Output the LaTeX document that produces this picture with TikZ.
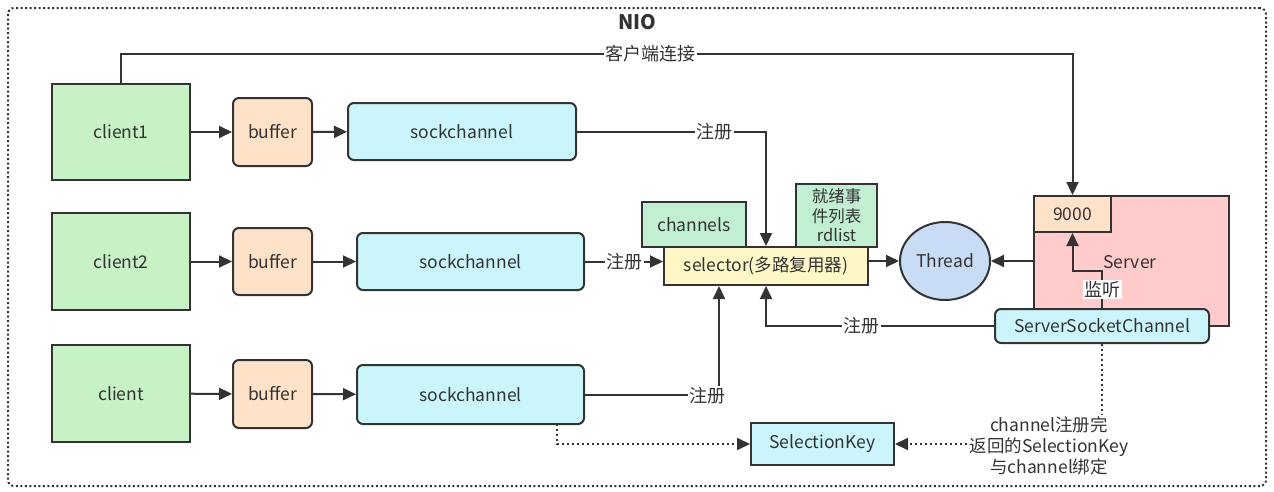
\documentclass[tikz,border=0pt]{standalone}
\usepackage{fontspec}
\setmainfont{Noto Sans CJK SC}
\usetikzlibrary{arrows.meta,shapes.geometric}
\definecolor{ln}{HTML}{333333}
\definecolor{txt}{HTML}{333333}
\definecolor{cgreen}{HTML}{C6F2C6}
\definecolor{cmint}{HTML}{C0EFD2}
\definecolor{corange}{HTML}{FFE2C8}
\definecolor{ccyan}{HTML}{CAF5FA}
\definecolor{cyellow}{HTML}{FFF8C6}
\definecolor{cblue}{HTML}{C8DCF6}
\definecolor{cpink}{HTML}{FFCCCB}
\begin{document}
\begin{tikzpicture}[x=1pt,y=-1pt,
  font=\fontsize{17.5}{20}\selectfont, text=txt,
  box/.style={draw=ln,line width=2pt,inner sep=0pt,align=center},
  rbox/.style={box,rounded corners=6pt},
  arr/.style={draw=ln,line width=2pt,-{Triangle[length=13pt,width=12pt]}},
  darr/.style={draw=ln,line width=2pt,dash pattern=on 2pt off 3pt,-{Triangle[length=13pt,width=12pt]}},
  dline/.style={draw=ln,line width=2pt,dash pattern=on 2pt off 3pt},
  lbl/.style={fill=white,inner sep=1.5pt,font=\fontsize{18}{20}\selectfont}]
\useasboundingbox (0,0) rectangle (1274,491);
\node[draw=ln,line width=2pt,dash pattern=on 2pt off 2.5pt,rounded corners=6pt,minimum width=1258pt,minimum height=478pt,inner sep=0pt] (frame) at (637,247) {};
\node[font=\bfseries\fontsize{20}{24}\selectfont] (title) at (637,22) {NIO};

% rows
\node[box,fill=cgreen,minimum width=138pt,minimum height=96pt] (c1) at (121,132) {client1};
\node[rbox,fill=corange,minimum width=79pt,minimum height=68pt] (b1) at (272.5,132) {buffer};
\node[rbox,fill=ccyan,minimum width=228pt,minimum height=57pt] (s1) at (462,131.5) {sockchannel};
\node[box,fill=cgreen,minimum width=138pt,minimum height=97pt] (c2) at (121,261.5) {client2};
\node[rbox,fill=corange,minimum width=79pt,minimum height=67pt] (b2) at (272.5,261.5) {buffer};
\node[rbox,fill=ccyan,minimum width=227pt,minimum height=57pt] (s2) at (470.5,261.5) {sockchannel};
\node[box,fill=cgreen,minimum width=138pt,minimum height=97pt] (c3) at (121,393.5) {client};
\node[rbox,fill=corange,minimum width=79pt,minimum height=68pt] (b3) at (272.5,394) {buffer};
\node[rbox,fill=ccyan,minimum width=227pt,minimum height=59pt] (s3) at (470.5,394.5) {sockchannel};

% selector group
\node[box,fill=cmint,minimum width=104pt,minimum height=45pt] (chs) at (694,224.5) {channels};
\node[box,fill=cmint,minimum width=81pt,minimum height=63pt,font=\fontsize{16.5}{19.5}\selectfont] (rd) at (836.5,215.5) {就绪事\\件列表\\rdlist};
\node[box,fill=cyellow,minimum width=204pt,minimum height=38pt] (sel) at (766,266) {selector(多路复用器)};
\node[draw=ln,line width=2pt,ellipse,fill=cblue,minimum width=90pt,minimum height=78pt,inner sep=0pt] (th) at (945,261) {Thread};

% server
\node[box,fill=cpink,minimum width=195pt,minimum height=130pt] (srv) at (1131.5,261) {};
\node (srvlbl) at (1130,262) {Server};
\node[box,fill=corange,minimum width=77pt,minimum height=36pt] (p9000) at (1072.5,214) {9000};
\node[rbox,fill=ccyan,minimum width=214pt,minimum height=34pt] (ssc) at (1102,326) {ServerSocketChannel};
\node[box,fill=ccyan,minimum width=143pt,minimum height=42pt] (sk) at (822.5,444) {SelectionKey};
\node[align=center,font=\fontsize{17.5}{21}\selectfont,inner sep=2pt] (note) at (1049,446) {channel注册完\\返回的SelectionKey\\与channel绑定};

% row arrows
\draw[arr] (c1) -- (b1);
\draw[arr] (b1) -- (s1);
\draw[arr] (c2) -- (b2);
\draw[arr] (b2) -- (s2);
\draw[arr] (c3) -- (b3);
\draw[arr] (b3) -- (s3);

% client connect
\draw[arr] (c1.north) -- ++(0,-29) -| node[lbl,pos=0.278]{客户端连接} (p9000.north);

% registrations
\coordinate (k1) at (766,131.5);
\draw[arr] (s1.east) -- node[lbl,pos=0.73]{注册} (k1) -- (sel.north);
\draw[arr] (s2.east) -- node[lbl]{注册} (s2.east -| sel.west);
\coordinate (k3) at (719,394.5);
\draw[arr] (s3.east) -- (k3) -- (k3 |- sel.south);
\node[lbl] (l3) at (707,396) {注册};
\draw[arr] (ssc.west) -- node[lbl,pos=0.58]{注册} (ssc.west -| sel.south) -- (sel.south);

% thread
\draw[arr] (sel.east |- th.west) -- (th.west);
\draw[arr] (srv.west |- th.east) -- (th.east);

% listen
\coordinate (k5) at (1102,271);
\draw[arr] (ssc.north) -- node[lbl]{监听} (ssc.north |- k5) -| (p9000.south);

% dotted
\draw[dline] (ssc.south) -- (ssc.south |- note.north);
\draw[darr] (note.west |- sk.east) -- (sk.east);
\coordinate (k6) at (557,424);
\draw[darr] (k6) |- (sk.west);
\end{tikzpicture}
\end{document}
